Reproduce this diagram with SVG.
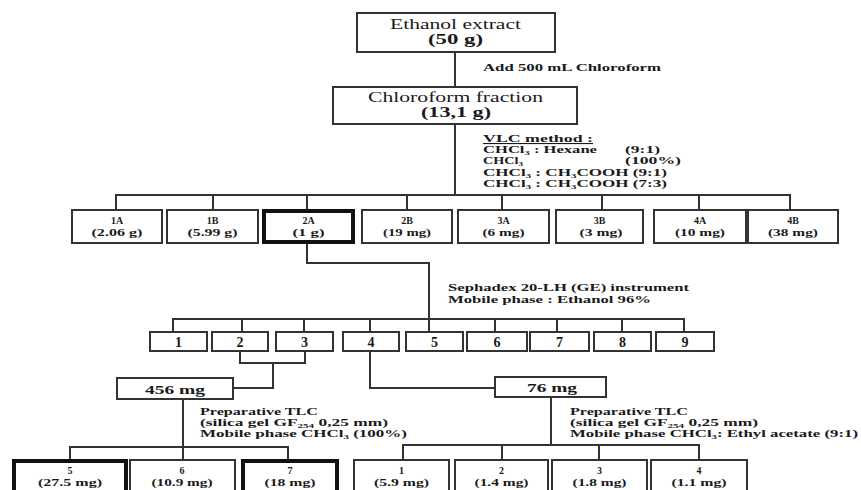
<svg xmlns="http://www.w3.org/2000/svg" width="861" height="490" viewBox="0 0 861 490">
<style>
text{font-family:"Liberation Serif","Times New Roman",serif;fill:#1a1a1a;}
.b{font-weight:bold;}
.t{font-size:14px;text-anchor:middle;}
.l{font-size:11px;font-weight:bold;}
.s{font-size:10px;font-weight:bold;text-anchor:middle;}
.d{font-size:14px;font-weight:bold;text-anchor:middle;}
.m{font-size:13px;font-weight:bold;text-anchor:middle;}
rect{fill:#fff;stroke:#333;stroke-width:2;}
rect.k{stroke:#111;stroke-width:4;}
.c path{fill:none;stroke:#333;stroke-width:2;}
.sub{font-size:7px;}
</style>
<rect x="0" y="0" width="861" height="490" style="fill:#fff;stroke:none"/>
<g class="c" id="connectors">
<path d="M455,52 V87"/>
<path d="M455,124 V195"/>
<path d="M116,210 V195 H790 V210 M213,195 V210 M307,195 V210 M407,195 V210 M502,195 V210 M602,195 V210 M699,195 V210"/>
<path d="M307,243 V263 H429 V332"/>
<path d="M173,332 V319 H684 V332 M242,319 V332 M304,319 V332 M370,319 V332 M495,319 V332 M557,319 V332 M622,319 V332"/>
<path d="M240,351 V363 H305 V351 M273,363 V388 H233"/>
<path d="M370,351 V388 H495"/>
<path d="M183,399 V460 M70,460 V447 H288 V460"/>
<path d="M551,397 V445 M403,460 V445 H699 V460 M502,445 V460 M599,445 V460"/>
</g>
<g id="ethanol">
<rect x="357" y="13" width="198" height="39"/>
<text class="t" x="455.5" y="29" textLength="131" lengthAdjust="spacingAndGlyphs">Ethanol extract</text>
<text class="t b" x="455.5" y="44" textLength="55" lengthAdjust="spacingAndGlyphs">(50 g)</text>
</g>
<text class="l" x="483" y="71" textLength="178" lengthAdjust="spacingAndGlyphs">Add 500 mL Chloroform</text>
<g id="chloroform">
<rect x="333" y="87" width="244" height="37"/>
<text class="t" x="455.5" y="102" textLength="175" lengthAdjust="spacingAndGlyphs">Chloroform fraction</text>
<text class="t b" x="456" y="117" textLength="70" lengthAdjust="spacingAndGlyphs">(13,1 g)</text>
</g>
<g id="vlc-label">
<text class="l" x="483" y="142" textLength="110" lengthAdjust="spacingAndGlyphs" text-decoration="underline">VLC method :</text>
<text class="l" x="483" y="153" textLength="114" lengthAdjust="spacingAndGlyphs">CHCl<tspan class="sub" dy="2">3</tspan><tspan dy="-2"> : Hexane</tspan></text>
<text class="l" x="625" y="153" textLength="35" lengthAdjust="spacingAndGlyphs">(9:1)</text>
<text class="l" x="483" y="164" textLength="40" lengthAdjust="spacingAndGlyphs">CHCl<tspan class="sub" dy="2">3</tspan></text>
<text class="l" x="625" y="164" textLength="56" lengthAdjust="spacingAndGlyphs">(100%)</text>
<text class="l" x="483" y="176" textLength="184" lengthAdjust="spacingAndGlyphs">CHCl<tspan class="sub" dy="2">3</tspan><tspan dy="-2"> : CH</tspan><tspan class="sub" dy="2">3</tspan><tspan dy="-2">COOH (9:1)</tspan></text>
<text class="l" x="483" y="187" textLength="184" lengthAdjust="spacingAndGlyphs">CHCl<tspan class="sub" dy="2">3</tspan><tspan dy="-2"> : CH</tspan><tspan class="sub" dy="2">3</tspan><tspan dy="-2">COOH (7:3)</tspan></text>
</g>
<g id="f1A"><rect x="72" y="210" width="90" height="33"/><text class="s" x="117" y="224">1A</text><text class="s" x="117" y="236" textLength="51" lengthAdjust="spacingAndGlyphs">(2.06 g)</text></g>
<g id="f1B"><rect x="167" y="210" width="91" height="33"/><text class="s" x="212.5" y="224">1B</text><text class="s" x="212.5" y="236" textLength="50" lengthAdjust="spacingAndGlyphs">(5.99 g)</text></g>
<g id="f2A"><rect class="k" x="264" y="211" width="89" height="31"/><text class="s" x="308.5" y="224">2A</text><text class="s" x="308.5" y="236" textLength="32" lengthAdjust="spacingAndGlyphs">(1 g)</text></g>
<g id="f2B"><rect x="362" y="210" width="90" height="33"/><text class="s" x="407" y="224">2B</text><text class="s" x="407" y="236" textLength="48" lengthAdjust="spacingAndGlyphs">(19 mg)</text></g>
<g id="f3A"><rect x="458" y="210" width="91" height="33"/><text class="s" x="503.5" y="224">3A</text><text class="s" x="503.5" y="236" textLength="42" lengthAdjust="spacingAndGlyphs">(6 mg)</text></g>
<g id="f3B"><rect x="556" y="210" width="87" height="33"/><text class="s" x="599.5" y="224">3B</text><text class="s" x="601" y="236" textLength="43" lengthAdjust="spacingAndGlyphs">(3 mg)</text></g>
<g id="f4A"><rect x="654" y="210" width="92" height="33"/><text class="s" x="700" y="224">4A</text><text class="s" x="700" y="236" textLength="50" lengthAdjust="spacingAndGlyphs">(10 mg)</text></g>
<g id="f4B"><rect x="748" y="210" width="90" height="33"/><text class="s" x="793" y="224">4B</text><text class="s" x="793" y="236" textLength="50" lengthAdjust="spacingAndGlyphs">(38 mg)</text></g>
<g id="sephadex-label">
<text class="l" x="448" y="291" textLength="241" lengthAdjust="spacingAndGlyphs">Sephadex 20-LH (GE) instrument</text>
<text class="l" x="448" y="303" textLength="203" lengthAdjust="spacingAndGlyphs">Mobile phase : Ethanol 96%</text>
</g>
<g id="s1"><rect x="150" y="332" width="57" height="19"/><text class="d" x="178.5" y="347">1</text></g>
<g id="s2"><rect x="212" y="332" width="56" height="19"/><text class="d" x="240" y="347">2</text></g>
<g id="s3"><rect x="276" y="332" width="57" height="19"/><text class="d" x="304.5" y="347">3</text></g>
<g id="s4"><rect x="343" y="332" width="56" height="19"/><text class="d" x="371" y="347">4</text></g>
<g id="s5"><rect x="406" y="332" width="57" height="19"/><text class="d" x="434.5" y="347">5</text></g>
<g id="s6"><rect x="467" y="332" width="60" height="19"/><text class="d" x="497" y="347">6</text></g>
<g id="s7"><rect x="530" y="332" width="59" height="19"/><text class="d" x="559.5" y="347">7</text></g>
<g id="s8"><rect x="594" y="332" width="57" height="19"/><text class="d" x="622.5" y="347">8</text></g>
<g id="s9"><rect x="656" y="332" width="58" height="19"/><text class="d" x="685" y="347">9</text></g>
<g id="m456"><rect x="117" y="378" width="116" height="21"/><text class="m" x="175" y="394" textLength="60" lengthAdjust="spacingAndGlyphs">456 mg</text></g>
<g id="m76"><rect x="495" y="377" width="111" height="20"/><text class="m" x="552" y="392" textLength="50" lengthAdjust="spacingAndGlyphs">76 mg</text></g>
<g id="tlc-left">
<text class="l" x="200" y="415" textLength="118" lengthAdjust="spacingAndGlyphs">Preparative TLC</text>
<text class="l" x="200" y="426" textLength="188" lengthAdjust="spacingAndGlyphs">(silica gel GF<tspan class="sub" dy="2">254</tspan><tspan dy="-2"> 0,25 mm)</tspan></text>
<text class="l" x="200" y="437" textLength="207" lengthAdjust="spacingAndGlyphs">Mobile phase CHCl<tspan class="sub" dy="2">3</tspan><tspan dy="-2"> (100%)</tspan></text>
</g>
<g id="tlc-right">
<text class="l" x="570" y="415" textLength="118" lengthAdjust="spacingAndGlyphs">Preparative TLC</text>
<text class="l" x="570" y="426" textLength="188" lengthAdjust="spacingAndGlyphs">(silica gel GF<tspan class="sub" dy="2">254</tspan><tspan dy="-2"> 0,25 mm)</tspan></text>
<text class="l" x="570" y="437" textLength="288" lengthAdjust="spacingAndGlyphs">Mobile phase CHCl<tspan class="sub" dy="2">3</tspan><tspan dy="-2">: Ethyl acetate (9:1)</tspan></text>
</g>
<g id="p5"><rect class="k" x="14" y="461" width="112" height="40"/><text class="s" x="70" y="474">5</text><text class="s" x="70" y="486" textLength="64" lengthAdjust="spacingAndGlyphs">(27.5 mg)</text></g>
<g id="p6"><rect x="130" y="460" width="105" height="40"/><text class="s" x="182" y="474">6</text><text class="s" x="182" y="486" textLength="61" lengthAdjust="spacingAndGlyphs">(10.9 mg)</text></g>
<g id="p7"><rect class="k" x="243" y="461" width="94" height="40"/><text class="s" x="290" y="474">7</text><text class="s" x="290" y="486" textLength="51" lengthAdjust="spacingAndGlyphs">(18 mg)</text></g>
<g id="q1"><rect x="354" y="460" width="95" height="40"/><text class="s" x="401.5" y="474">1</text><text class="s" x="401.5" y="486" textLength="55" lengthAdjust="spacingAndGlyphs">(5.9 mg)</text></g>
<g id="q2"><rect x="455" y="460" width="93" height="40"/><text class="s" x="501.5" y="474">2</text><text class="s" x="501.5" y="486" textLength="54" lengthAdjust="spacingAndGlyphs">(1.4 mg)</text></g>
<g id="q3"><rect x="552" y="460" width="95" height="40"/><text class="s" x="599.5" y="474">3</text><text class="s" x="599.5" y="486" textLength="54" lengthAdjust="spacingAndGlyphs">(1.8 mg)</text></g>
<g id="q4"><rect x="651" y="460" width="96" height="40"/><text class="s" x="699" y="474">4</text><text class="s" x="699" y="486" textLength="55" lengthAdjust="spacingAndGlyphs">(1.1 mg)</text></g>
</svg>
